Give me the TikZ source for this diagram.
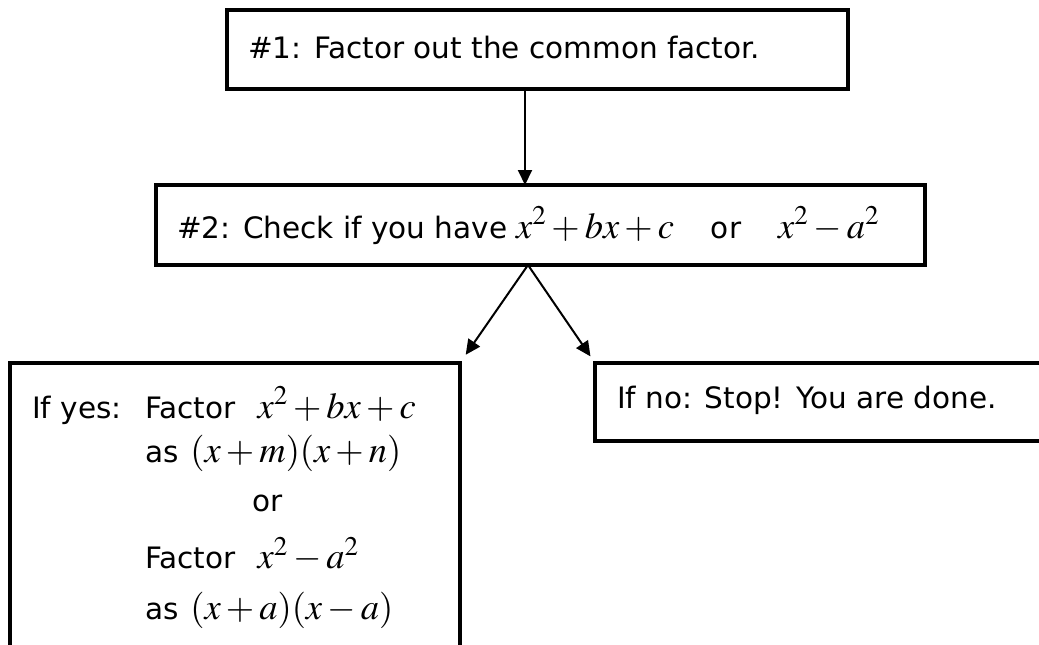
\documentclass[tikz,border=0pt]{standalone}
\usepackage{amsmath, amssymb}
\usepackage{mathptmx}
\usepackage{fontspec}
\setmainfont{DejaVu Sans}
\usepackage{tikz}
\usetikzlibrary{arrows.meta, positioning}
\newcommand{\mth}[1]{{\fontsize{36.5pt}{36pt}\selectfont$#1$}}
\tikzset{
  box/.style={rectangle, draw=black, line width=3.8pt, fill=white,
              outer sep=0pt, inner sep=0pt, anchor=north west},
  steptext/.style={inner sep=0pt, anchor=base west,
              font=\fontsize{29.5pt}{36pt}\selectfont},
  arrow/.style={-{Triangle[length=15pt, width=14pt]}, line width=2pt, color=black},
}

\begin{document}
\begin{tikzpicture}[x=1pt, y=-1pt]
          % page
          \path[fill=white, use as bounding box] (0,0) rectangle (1039,645);
          % boxes
          \node[box, minimum width=621, minimum height=79] (step1) at (227,10) {};
          \node[box, minimum width=769, minimum height=80] (step2) at (156,185) {};
          \node[box, minimum width=450, minimum height=337] (yesbox) at (10,363) {};
          \node[box, minimum width=465, minimum height=78] (nobox) at (595,363) {};
          % texts
          \node[steptext] (step2txt) at (177,238)
            {\#2: Check if you have\hspace{0.3em}\mth{x^2+bx+c}\hspace{1.25em}or\hspace{1.25em}\mth{x^2-a^2}};
          \node[steptext] (step1txt) at (248,58) {\#1: Factor out the common factor.};
          \node[steptext] (yestxt) at (32,418) {\begin{tabular}[t]{@{}l@{}}
            \makebox[113pt][l]{If yes:}Factor\hspace{0.75em}\mth{x^2+bx+c}\\[6pt]
            \hspace*{113pt}as\hspace{0.4em}\mth{(x+m)(x+n)}\\[13pt]
            \hspace*{220pt}or\\[15pt]
            \hspace*{113pt}Factor\hspace{0.75em}\mth{x^2-a^2}\\[13pt]
            \hspace*{113pt}as\hspace{0.4em}\mth{(x+a)(x-a)}
          \end{tabular}};
          \node[steptext] (notxt) at (617,408) {If no: Stop! You are done.};
          % connectors
          \coordinate (drop) at (525,0);
          \coordinate (fork) at (528,265);
          \draw[arrow] (step1.south -| drop) -- (step2.north -| drop);
          \draw[arrow, shorten >=10pt] (fork) -- (yesbox.north east);
          \draw[arrow, shorten >=8pt] (fork) -- (nobox.north west);
\end{tikzpicture}
\end{document}
